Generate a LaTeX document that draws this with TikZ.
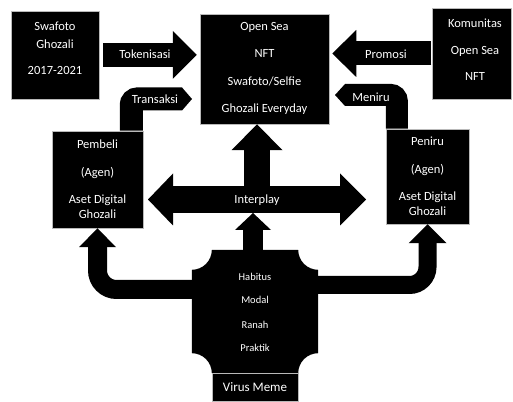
\documentclass[tikz,border=0pt]{standalone}
\usepackage{fontspec}
\setmainfont{Carlito}
\usetikzlibrary{arrows.meta}
\begin{document}
\begin{tikzpicture}[x=1pt,y=1pt,line join=miter]
\tikzstyle{boite} = [fill=black,draw=gray!55,line width=0.5pt,inner sep=0pt]
\tikzstyle{texte} = [text=white,font=\fontsize{12.5}{14}\selectfont,inner sep=0pt,text height=8.5pt,text depth=2.5pt]
\tikzstyle{petit} = [text=white,font=\fontsize{10.5}{12}\selectfont,inner sep=0pt,text height=7pt,text depth=2pt]
\useasboundingbox (0,0) rectangle (513,401);
%boites
\node[boite,minimum width=88pt,minimum height=88pt] (swafoto) at (55,346) {};
\node[boite,minimum width=129pt,minimum height=110pt] (opensea) at (264.5,332) {};
\node[boite,minimum width=79pt,minimum height=91pt] (komunitas) at (472,347.5) {};
\node[boite,minimum width=91pt,minimum height=97pt] (pembeli) at (97.5,221.5) {};
\node[boite,minimum width=83pt,minimum height=95pt] (peniru) at (427.5,224.5) {};
\node[minimum width=126pt,minimum height=123pt,inner sep=0pt] (plaque) at (255,89.5) {};
%forme centrale
\fill ([xshift=20pt]plaque.north west) -- ([xshift=-20pt]plaque.north east)
  arc[start angle=180,end angle=270,radius=20pt] -- ([yshift=20pt]plaque.south east)
  arc[start angle=90,end angle=180,radius=20pt] -- ([xshift=20pt]plaque.south west)
  arc[start angle=0,end angle=90,radius=20pt] -- ([yshift=-20pt]plaque.north west)
  arc[start angle=270,end angle=360,radius=20pt] -- cycle;
\node[boite,minimum width=86pt,minimum height=28pt] (virus) at (255,14) {};
%fleches droites
\draw[line width=24pt,-{Triangle[width=48pt,length=24pt,line width=0pt]},shorten <=4pt,shorten >=3pt] (swafoto.east) -- (opensea.west |- swafoto.east);
\draw[line width=24pt,-{Triangle[width=47pt,length=24pt,line width=0pt]},shorten <=1pt,shorten >=3pt] (komunitas.west) -- (opensea.east |- komunitas.west);
%fleches coudees
\coordinate (transFin) at (192,302);
\coordinate (menFin) at (335,306);
\draw[line width=23pt,rounded corners=6pt,-{Triangle[width=23pt,length=10pt,line width=0pt]}] ([xshift=-12pt]pembeli.north east) |- (transFin);
\draw[line width=22pt,rounded corners=6pt,-{Triangle[width=22pt,length=10pt,line width=0pt]}] ([xshift=11pt]peniru.north west) |- (menFin);
%interplay
\coordinate (interG) at (148,201.5);
\coordinate (interD) at (366,201.5);
\coordinate (interC) at (257,201.5);
\coordinate (plaqueH) at ([xshift=-2pt]plaque.north);
\draw[line width=27pt,{Triangle[width=52pt,length=25pt,line width=0pt]}-{Triangle[width=52pt,length=26pt,line width=0pt]}] (interG) -- (interD);
\draw[line width=26pt,-{Triangle[width=51pt,length=26pt,line width=0pt]}] (interC) -- (interC |- opensea.south);
\draw[line width=20pt,-{Triangle[width=36pt,length=17pt,line width=0pt]},shorten >=13.5pt] (plaqueH) -- (plaqueH |- interC);
%fleches courbes
\draw[line width=19pt,rounded corners=19pt,-{Triangle[width=37pt,length=19pt,line width=0pt]}] ([xshift=2pt,yshift=22pt]plaque.west) -| (pembeli.south);
\draw[line width=18pt,rounded corners=18pt,-{Triangle[width=38pt,length=19pt,line width=0pt]}] ([xshift=-2pt,yshift=26.5pt]plaque.east) -| (peniru.south);
%textes
\node[texte] (sw1) at (55,373) {Swafoto};
\node[texte] (sw2) at (55,355) {Ghozali};
\node[texte] (sw3) at (55,329) {2017-2021};
\node[texte] (os1) at (264.5,373) {Open Sea};
\node[texte] (os2) at (264.5,346) {NFT};
\node[texte] (os3) at (264.5,318) {Swafoto/Selfie};
\node[texte] (os4) at (264.5,291) {Ghozali Everyday};
\node[texte] (ko1) at (475,376) {Komunitas};
\node[texte] (ko2) at (475,349) {Open Sea};
\node[texte] (ko3) at (475,323) {NFT};
\node[texte] (pb1) at (97.5,255) {Pembeli};
\node[texte] (pb2) at (97.5,227) {(Agen)};
\node[texte] (pb3) at (97.5,200) {Aset Digital};
\node[texte] (pb4) at (97.5,185) {Ghozali};
\node[texte] (pn1) at (427.5,258) {Peniru};
\node[texte] (pn2) at (427.5,230) {(Agen)};
\node[texte] (pn3) at (427.5,203) {Aset Digital};
\node[texte] (pn4) at (427.5,188) {Ghozali};
\node[petit] (pl1) at (255,123) {Habitus};
\node[petit] (pl2) at (255,100) {Modal};
\node[petit] (pl3) at (255,75) {Ranah};
\node[petit] (pl4) at (255,52) {Praktik};
\node[texte,font=\fontsize{13}{15}\selectfont] (vm) at (255,13) {Virus Meme};
%etiquettes des fleches
\node[texte] (tok) at (145,345) {Tokenisasi};
\node[texte] (pro) at (386,345) {Promosi};
\node[texte] (tra) at (155,300) {Transaksi};
\node[texte] (men) at (371,302) {Meniru};
\node[texte] (int) at (257,200) {Interplay};
\end{tikzpicture}
\end{document}
